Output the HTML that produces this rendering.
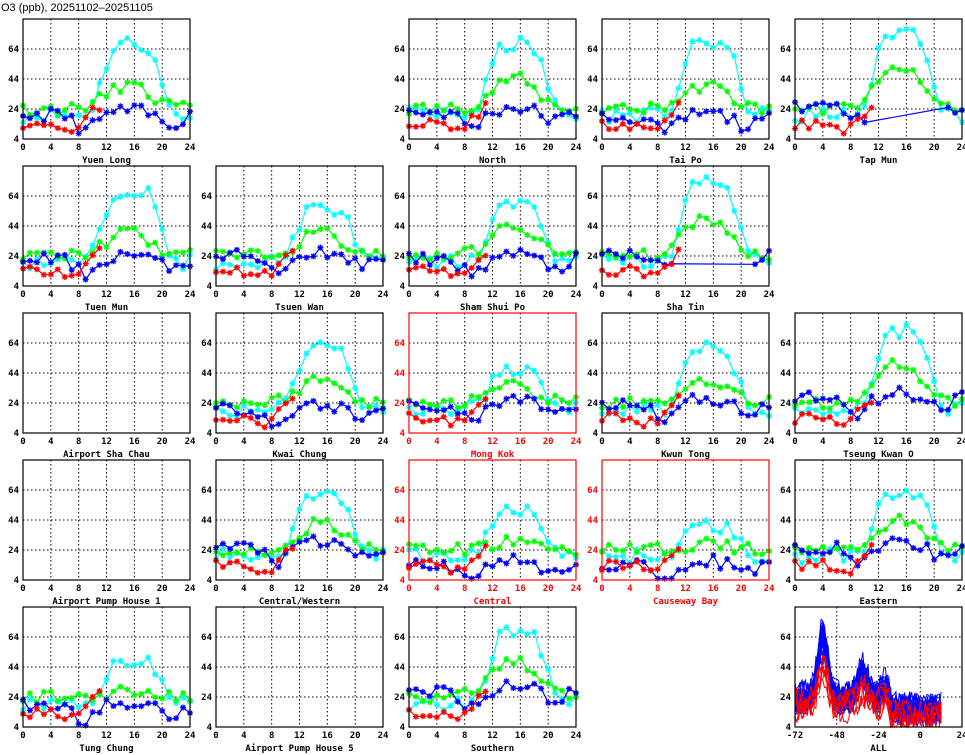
<!DOCTYPE html>
<html><head><meta charset="utf-8">
<style>
html,body{margin:0;padding:0;background:#fff;}
svg{display:block;font-family:"DejaVu Sans Mono","Liberation Mono",monospace;font-weight:bold;}
</style></head>
<body>
<svg id="s" width="965" height="755" viewBox="0 0 965 755" xmlns="http://www.w3.org/2000/svg">
<text x="1" y="11" font-size="11" font-weight="normal" font-family="Liberation Sans,sans-serif">O3 (ppb), 20251102–20251105</text>
</svg>
<script>
var S=document.getElementById('s'),NS='http://www.w3.org/2000/svg';
function el(t,a,txt){var e=document.createElementNS(NS,t);for(var k in a)e.setAttribute(k,a[k]);if(txt!==undefined)e.textContent=txt;S.appendChild(e);return e;}
var seed=11;function rnd(){seed=(seed*16807)%2147483647;return seed/2147483647;}
var panels=[
[0,0,"Yuen Long",0,68,40,24,0],[0,2,"North",0,67,45,26,0],[0,3,"Tai Po",0,68,40,22,0],[0,4,"Tap Mun",0,76,52,30,1],
[1,0,"Tuen Mun",0,69,40,26,0],[1,1,"Tsuen Wan",0,56,40,28,0],[1,2,"Sham Shui Po",0,58,45,26,0],[1,3,"Sha Tin",0,74,50,30,1],
[2,0,"Airport Sha Chau",0,0],[2,1,"Kwai Chung",0,62,40,24,0],[2,2,"Mong Kok",1,45,35,26,0],[2,3,"Kwun Tong",0,60,40,28,0],[2,4,"Tseung Kwan O",0,72,50,32,0],
[3,0,"Airport Pump House 1",0,0],[3,1,"Central/Western",0,63,42,30,0],[3,2,"Central",1,52,30,18,0],[3,3,"Causeway Bay",1,40,28,18,0],[3,4,"Eastern",0,62,45,30,0],
[4,0,"Tung Chung",0,48,28,22,0],[4,1,"Airport Pump House 5",0,0],[4,2,"Southern",0,68,50,32,0]];
function star(x,y,c){el('path',{d:'M'+(x-3)+' '+y+'h6M'+x+' '+(y-3)+'v6M'+(x-2.2)+' '+(y-2.2)+'l4.4 4.4M'+(x-2.2)+' '+(y+2.2)+'l4.4 -4.4',stroke:c,'stroke-width':1.3,fill:'none'});}
function frame(L,T,W,H,col,xlab,xmin,xmax){
  var yv=function(v){return T+H-(v-4)/80*H;};
  [24,44,64].forEach(function(v){el('line',{x1:L,x2:L+W,y1:yv(v),y2:yv(v),stroke:'#000','stroke-width':1,'stroke-dasharray':'1.5,2.5'});});
  xlab.forEach(function(v){var x=L+(v-xmin)/(xmax-xmin)*W;if(v>xmin&&v<xmax)el('line',{x1:x,x2:x,y1:T,y2:T+H,stroke:'#000','stroke-width':1,'stroke-dasharray':'1.5,2.5'});
    el('text',{x:x,y:T+H+11,'font-size':9,'text-anchor':'middle',fill:col},v);});
  [4,24,44,64].forEach(function(v){el('text',{x:L-4,y:yv(v)+3,'font-size':9,'text-anchor':'end',fill:col},v);});
  return yv;
}
panels.forEach(function(p){
  var r=p[0],c=p[1],L=23+193*c,T=19+147*r,W=167,H=120,col=p[3]?'#f00':'#000';
  var yv=frame(L,T,W,H,col,[0,4,8,12,16,20,24],0,24);
  el('text',{x:L+W/2,y:T+H+24,'font-size':9,'text-anchor':'middle',fill:col},p[2]);
  if(p[4]){
    var xs=function(h){return L+h/24*W;};
    function series(f,color,n0,n1,gap,nz){var pts=[];for(var h=n0;h<=n1;h++){var v=Math.max(5,Math.min(82,f(h)+(rnd()-0.5)*nz));pts.push([xs(h),yv(v)]);}
      var pp=pts;if(gap){pp=pts.slice(0,11).concat(pts.slice(22));}
      el('polyline',{points:pp.map(function(q){return q.join(',')}).join(' '),fill:'none',stroke:color,'stroke-width':1.2});
      pp.forEach(function(q){star(q[0],q[1],color);});}
    var P=p[4],G=p[5],B=p[6];
    series(function(h){return 20+(P-20)*Math.exp(-Math.pow((h-15.5)/4.6,4)*1);},'#0ff',0,24,0,10);
    series(function(h){return 24+(G-24)*Math.exp(-Math.pow((h-15)/4.2,2));},'#0f0',0,24,0,8);
    series(function(h){return (B-4)-10*Math.exp(-Math.pow((h-9)/2,2))+3*Math.exp(-Math.pow((h-15)/3,2))-6*Math.exp(-Math.pow((h-21)/2,2));},'#00f',0,24,p[7],9);
    series(function(h){return 14+(h>8?(h-8)*4:0)-(h>5&&h<9?3:0);},'#f00',0,11,0,7);
  }
  el('rect',{x:L,y:T,width:W,height:H,fill:'none',stroke:col,'stroke-width':1.2});
});
(function(){var L=795,T=607,W=167,H=120;var yv=frame(L,T,W,H,'#000',[-72,-48,-24,0,24],-72,24);
 el('text',{x:L+W/2,y:T+H+24,'font-size':9,'text-anchor':'middle'},'ALL');
 var xs=function(h){return L+(h+72)/96*W;};
 for(var k=0;k<30;k++){var red=k>=24;var pts=[];var amp=red?0.55:0.7+rnd()*0.5;var off=(rnd()-0.5)*16;
  for(var h=-72;h<=12;h++){var v=24+off*0.6+amp*(40*Math.exp(-Math.pow((h+56)/4,2))+18*Math.exp(-Math.pow((h+33)/4,2))+8*Math.exp(-Math.pow((h+20)/3,2)))-(h>-18?8:0)+(rnd()-0.5)*16;
   if(red)v-=6;v=Math.max(4,Math.min(84,v));pts.push(xs(h).toFixed(1)+','+yv(v).toFixed(1));}
  el('polyline',{points:pts.join(' '),fill:'none',stroke:red?'#f00':'#00f','stroke-width':1});}
 el('rect',{x:L,y:T,width:W,height:H,fill:'none',stroke:'#000','stroke-width':1.2});})();
</script>
</body></html>
